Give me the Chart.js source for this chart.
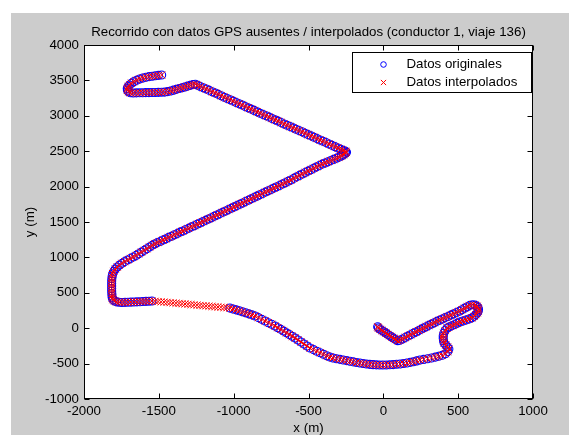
<!DOCTYPE html>
<html>
<head>
<meta charset="utf-8">
<script src="https://cdn.jsdelivr.net/npm/chart.js@4.4.1/dist/chart.umd.min.js"></script>
<style>
  html, body { margin: 0; padding: 0; background: #ffffff; }
  #figura { position: absolute; left: 11px; top: 13px; width: 558px; height: 422px; background: #cccccc; }
  canvas { display: block; }
</style>
</head>
<body>
<div id="figura"><canvas id="grafico" width="558" height="422"></canvas></div>
<script>
// Textos de la figura
const titulo = 'Recorrido con datos GPS ausentes / interpolados (conductor 1, viaje 136)';
const etiquetaX = 'x (m)';
const etiquetaY = 'y (m)';
const nombreOriginales = 'Datos originales';
const nombreInterpolados = 'Datos interpolados';

// Marcas de los ejes (m)
const ticksX = [-2000, -1500, -1000, -500, 0, 500, 1000];
const ticksY = [-1000, -500, 0, 500, 1000, 1500, 2000, 2500, 3000, 3500, 4000];

// Posiciones GPS registradas [x, y] en metros, en orden de recorrido
const datosOriginales = [
  // salida y primer tramo hacia el este
  [-38,20],[-33,3],[-22,-15],[-9,-33],[4,-51],[17,-69],[30,-88],[43,-106],[56,-124],[69,-142],[82,-160],[96,-176],
  [110,-170],[128,-152],[146,-131],[164,-112],[182,-93],[200,-72],[218,-53],[236,-34],[252,-17],[268,2],[286,21],
  [304,40],[322,58],[340,77],[358,96],[376,113],[394,131],[413,149],[432,166],[451,185],[470,203],[489,222],[508,240],
  [525,261],[543,283],[561,304],[578,322],[596,332],[613,326],[626,311],[633,290],[636,266],[634,241],[628,216],
  [618,192],[606,167],[592,146],
  // vuelta hacia el sur
  [572,130],[552,116],[532,102],[512,88],[494,71],[477,53],[460,36],[442,19],[426,2],[413,-33],[404,-72],[400,-110],
  [400,-143],[402,-176],[406,-209],[417,-238],[429,-266],[438,-294],[431,-329],[415,-361],[393,-383],[370,-397],[348,-408],
  // curva inferior hacia el oeste
  [322,-420],[296,-431],[270,-441],[245,-450],[223,-462],[201,-473],[180,-483],[158,-492],[135,-499],[112,-505],
  [89,-510],[66,-514],[43,-517],[20,-519],[-3,-520],[-25,-520],[-47,-518],[-69,-515],[-91,-511],[-113,-505],
  [-135,-499],[-157,-492],[-179,-484],[-201,-476],[-223,-467],[-245,-458],[-268,-449],[-290,-440],[-313,-431],
  [-336,-421],[-357,-407],[-378,-389],[-400,-368],[-422,-347],[-444,-325],[-467,-302],[-490,-280],[-510,-252],
  [-530,-223],[-550,-195],[-570,-166],[-590,-138],[-609,-114],[-628,-90],[-647,-66],[-666,-41],[-685,-17],[-705,7],
  [-724,31],[-746,55],[-768,78],[-790,102],[-812,125],[-835,149],[-857,172],[-878,188],[-899,203],[-920,218],
  [-941,232],[-962,246],[-983,259],[-1004,272],[-1025,285],
  // tras el hueco: giro al norte
  [-1546,384],[-1566,381],[-1586,379],[-1606,377],[-1626,374],[-1646,372],[-1666,370],[-1686,368],[-1706,366],
  [-1726,365],[-1746,364],[-1765,366],[-1782,372],[-1796,384],[-1806,402],[-1811,425],[-1813,455],[-1814,490],
  [-1815,525],[-1815,560],[-1815,595],[-1815,630],[-1815,665],[-1814,700],[-1812,735],[-1808,770],[-1801,803],
  [-1791,835],[-1778,864],[-1763,891],[-1746,916],[-1728,940],[-1709,963],[-1690,985],[-1671,1006],[-1652,1028],
  [-1634,1051],[-1616,1075],[-1598,1099],[-1580,1122],[-1562,1146],[-1545,1170],
  // diagonal hacia el noreste
  [-1528,1190],[-1510,1209],[-1491,1225],[-1472,1246],[-1453,1262],[-1434,1283],[-1415,1299],[-1396,1320],
  [-1377,1336],[-1358,1357],[-1339,1373],[-1320,1394],[-1301,1410],[-1282,1431],[-1263,1447],[-1244,1468],
  [-1225,1486],[-1206,1505],[-1187,1523],[-1168,1543],[-1149,1561],[-1130,1580],[-1111,1599],[-1092,1618],
  [-1073,1637],[-1054,1655],[-1035,1675],[-1016,1693],[-997,1713],[-978,1731],[-959,1751],[-940,1769],
  [-921,1789],[-902,1807],[-883,1827],[-864,1846],[-845,1865],[-826,1884],[-807,1903],[-788,1922],[-769,1941],
  [-750,1960],[-731,1979],[-712,1998],[-693,2016],[-674,2036],[-655,2054],[-636,2075],[-617,2094],[-598,2116],
  [-579,2137],[-560,2158],[-541,2178],[-522,2199],[-503,2219],[-484,2239],[-465,2259],[-446,2279],[-427,2298],
  [-408,2317],[-389,2334],[-370,2352],[-351,2368],[-332,2384],[-313,2400],[-296,2416],[-280,2433],[-266,2450],
  [-254,2467],[-246,2484],
  // regreso hacia el noroeste
  [-252,2499],[-268,2512],[-285,2528],[-303,2546],[-323,2564],[-343,2582],[-363,2602],[-383,2622],[-403,2640],
  [-423,2658],[-443,2678],[-463,2698],[-483,2716],[-503,2734],[-523,2754],[-543,2774],[-563,2792],[-583,2810],
  [-603,2829],[-623,2849],[-643,2867],[-663,2885],[-683,2905],[-703,2925],[-723,2943],[-743,2961],[-763,2981],
  [-783,3001],[-803,3018],[-823,3036],[-843,3056],[-863,3076],[-883,3094],[-903,3112],[-923,3132],[-943,3152],
  [-963,3170],[-983,3188],[-1003,3207],[-1023,3227],[-1043,3245],[-1063,3263],[-1083,3283],[-1103,3303],
  [-1123,3321],[-1143,3339],[-1163,3359],[-1183,3379],[-1203,3396],[-1223,3414],[-1241,3432],[-1256,3445],
  // tramo final con gancho
  [-1272,3440],[-1290,3430],[-1308,3419],[-1327,3407],[-1345,3396],[-1364,3385],[-1383,3373],[-1402,3362],
  [-1421,3351],[-1441,3341],[-1461,3335],[-1482,3333],[-1503,3331],[-1524,3330],[-1545,3329],[-1566,3328],
  [-1587,3327],[-1608,3326],[-1629,3325],[-1650,3324],[-1671,3323],[-1690,3325],[-1703,3340],[-1710,3362],
  [-1711,3386],[-1706,3412],[-1696,3436],[-1683,3460],[-1667,3482],[-1648,3502],[-1628,3520],[-1607,3534],
  [-1586,3545],[-1565,3553],[-1544,3559],[-1523,3565],[-1502,3571],[-1481,3577]
];

// Posiciones rellenadas donde faltaba la señal GPS
const huecoInterpolado = [
  [-1045,289],[-1065,292],[-1085,296],[-1105,300],[-1125,303],[-1145,307],[-1165,311],[-1185,315],[-1205,318],
  [-1225,322],[-1245,326],[-1265,330],[-1285,334],[-1305,338],[-1325,342],[-1345,346],[-1365,350],[-1385,353],
  [-1405,357],[-1425,361],[-1445,365],[-1465,369],[-1485,372],[-1505,376],[-1525,380]
];

// La serie interpolada cubre el trayecto completo: fijos originales más el hueco rellenado
const datosInterpolados = datosOriginales.concat(huecoInterpolado);

const aPuntos = pares => pares.map(([x, y]) => ({ x, y }));

const fuente = { family: "'Liberation Sans', Arial, Helvetica, sans-serif", size: 13.3 };
const fuenteCss = "13.3px 'Liberation Sans', Arial, Helvetica, sans-serif";
const AZUL = '#0000ff';
const ROJO = '#ff0000';
const LARGO_TICK = 5;

// Caja de ejes al estilo clásico: fondo blanco, marco, marcas hacia dentro, título y leyenda
const marcoEjes = {
  id: 'marcoEjes',
  beforeDraw(chart) {
    const { ctx, chartArea: a } = chart;
    ctx.save();
    ctx.fillStyle = '#ffffff';
    ctx.fillRect(a.left, a.top, a.right - a.left, a.bottom - a.top);
    ctx.restore();
  },
  afterDraw(chart) {
    const { ctx, chartArea: a, scales } = chart;
    const L = a.left + 0.5, R = a.right - 0.5, T = a.top + 0.5, B = a.bottom - 0.5;
    ctx.save();
    ctx.strokeStyle = '#000000';
    ctx.lineWidth = 1;
    ctx.strokeRect(L, T, R - L, B - T);
    ctx.beginPath();
    ticksX.forEach(v => {
      const px = Math.round(scales.x.getPixelForValue(v)) + 0.5;
      ctx.moveTo(px, B); ctx.lineTo(px, B - LARGO_TICK);
      ctx.moveTo(px, T); ctx.lineTo(px, T + LARGO_TICK);
    });
    ticksY.forEach(v => {
      const py = Math.round(scales.y.getPixelForValue(v)) + 0.5;
      ctx.moveTo(L, py); ctx.lineTo(L + LARGO_TICK, py);
      ctx.moveTo(R, py); ctx.lineTo(R - LARGO_TICK, py);
    });
    ctx.stroke();

    // título centrado sobre la caja de ejes
    ctx.fillStyle = '#000000';
    ctx.font = fuenteCss;
    ctx.textAlign = 'center';
    ctx.textBaseline = 'alphabetic';
    ctx.fillText(titulo, (a.left + a.right) / 2, a.top - 9);

    // leyenda en la esquina superior derecha
    const lw = 179, lh = 40;
    const lx = Math.round(a.right - 2 - lw) + 0.5, ly = a.top + 7.5;
    ctx.fillStyle = '#ffffff';
    ctx.fillRect(lx, ly, lw, lh);
    ctx.strokeStyle = '#000000';
    ctx.strokeRect(lx, ly, lw, lh);
    const ds = chart.data.datasets;
    const filas = [ly + 12, ly + 30];
    const mx = lx + 31;
    ds.forEach((d, i) => {
      const cy = filas[i];
      ctx.lineWidth = 1;
      ctx.strokeStyle = d.borderColor;
      ctx.beginPath();
      if (d.pointStyle === 'circle') {
        ctx.arc(mx, cy, 2.8, 0, Math.PI * 2);
      } else {
        const r = 2.6;
        ctx.moveTo(mx - r, cy - r); ctx.lineTo(mx + r, cy + r);
        ctx.moveTo(mx - r, cy + r); ctx.lineTo(mx + r, cy - r);
      }
      ctx.stroke();
      ctx.fillStyle = '#000000';
      ctx.textAlign = 'left';
      ctx.textBaseline = 'middle';
      ctx.fillText(d.label, lx + 54, cy);
    });
    ctx.restore();
  }
};

const sinSeparador = v => String(v);

new Chart(document.getElementById('grafico'), {
  type: 'scatter',
  data: {
    datasets: [
      {
        label: nombreOriginales,
        data: aPuntos(datosOriginales),
        pointStyle: 'circle',
        pointRadius: 4,
        borderColor: AZUL,
        backgroundColor: 'rgba(0,0,0,0)',
        borderWidth: 1.1,
        order: 2
      },
      {
        label: nombreInterpolados,
        data: aPuntos(datosInterpolados),
        pointStyle: 'crossRot',
        pointRadius: 5,
        borderColor: ROJO,
        backgroundColor: ROJO,
        borderWidth: 1,
        order: 1
      }
    ]
  },
  options: {
    responsive: false,
    animation: false,
    events: [],
    layout: { padding: { top: 32, right: 36, left: 0, bottom: 0 } },
    plugins: {
      legend: { display: false },
      tooltip: { enabled: false },
      title: { display: false }
    },
    scales: {
      x: {
        type: 'linear',
        min: -2000,
        max: 1000,
        afterBuildTicks: s => { s.ticks = ticksX.map(v => ({ value: v })); },
        afterFit: s => { s.height = 36; },
        grid: { display: false, drawTicks: false },
        border: { display: false },
        ticks: { color: '#000000', font: fuente, padding: 4, maxRotation: 0, autoSkip: false, callback: sinSeparador },
        title: { display: true, text: etiquetaX, color: '#000000', font: { ...fuente, lineHeight: 1 }, padding: { top: 0, bottom: 0 } }
      },
      y: {
        type: 'linear',
        min: -1000,
        max: 4000,
        afterBuildTicks: s => { s.ticks = ticksY.map(v => ({ value: v })); },
        afterFit: s => { s.width = 73; },
        grid: { display: false, drawTicks: false },
        border: { display: false },
        ticks: { color: '#000000', font: fuente, padding: 5, autoSkip: false, callback: sinSeparador },
        title: { display: true, text: etiquetaY, color: '#000000', font: fuente, padding: { top: 11, bottom: 0 } }
      }
    }
  },
  plugins: [marcoEjes]
});
</script>
</body>
</html>
